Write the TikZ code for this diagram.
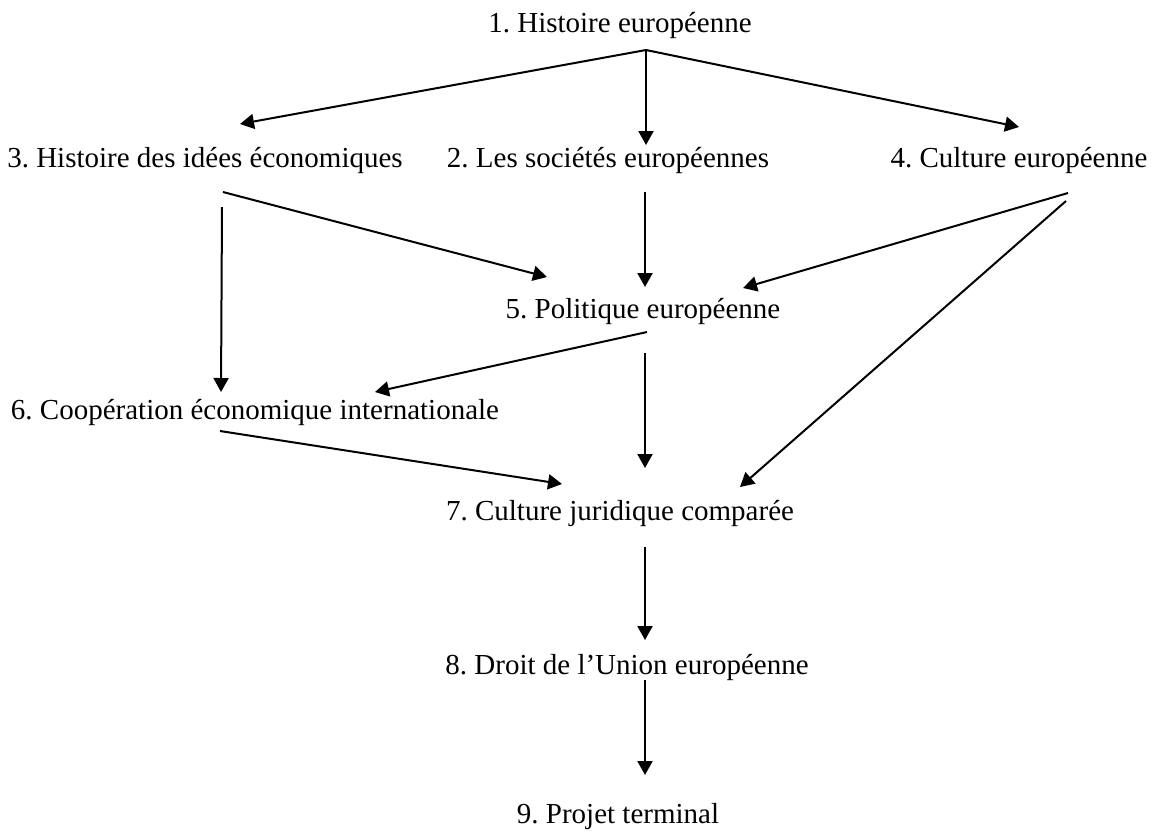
\documentclass[tikz,border=0pt]{standalone}
\usepackage{fontspec}
\setmainfont{Liberation Serif}
\usetikzlibrary{arrows.meta}

\begin{document}
\begin{tikzpicture}[
  x=0.5pt, y=-0.5pt,
  font=\fontsize{14.5}{17}\selectfont\frenchspacing,
  >={Triangle[length=7pt, width=7.5pt]},
  cours/.style={inner sep=0pt, anchor=center},
  lien/.style={->, line width=1pt, draw=black},
]
\useasboundingbox (0,0) rectangle (1157,832);

% ---- courses ----
\node[cours] (hist)   at (620,25)  {1. Histoire européenne};
\node[cours] (idees)  at (205,160) {3. Histoire des idées économiques};
\node[cours] (soc)    at (608,160) {2. Les sociétés européennes};
\node[cours] (cult)   at (1019,160) {4. Culture européenne};
\node[cours] (pol)    at (643,311) {5. Politique européenne};
\node[cours] (coop)   at (255,412) {6. Coopération économique internationale};
\node[cours] (jur)    at (620,513) {7. Culture juridique comparée};
\node[cours] (droit)  at (627,667) {8. Droit de l’Union européenne};
\node[cours] (projet) at (618,817) {9. Projet terminal};

% ---- free ends of the connectors ----
\coordinate (hist-out)   at (646,50);
\coordinate (idees-in)   at (240,124);
\coordinate (soc-in)     at (646,145);
\coordinate (cult-in)    at (1019,127);
\coordinate (idees-out)  at (223,192);
\coordinate (idees-down) at (222,207);
\coordinate (soc-out)    at (645,192);
\coordinate (cult-out)   at (1068,193);
\coordinate (cult-down)  at (1066,201);
\coordinate (pol-in)     at (645,287);
\coordinate (pol-inl)    at (547,277);
\coordinate (pol-inr)    at (743,288);
\coordinate (pol-out)    at (647,332);
\coordinate (pol-down)   at (645,353);
\coordinate (coop-in)    at (221,392);
\coordinate (coop-inr)   at (375,392);
\coordinate (coop-out)   at (220,431);
\coordinate (jur-in)     at (645,468);
\coordinate (jur-inl)    at (562,484);
\coordinate (jur-inr)    at (740,487);
\coordinate (jur-out)    at (645,547);
\coordinate (droit-in)   at (645,640);
\coordinate (droit-out)  at (645,680);
\coordinate (projet-in)  at (645,775);

% ---- flows ----
\draw[lien] (hist-out) -- (idees-in);
\draw[lien] (hist-out) -- (soc-in);
\draw[lien] (hist-out) -- (cult-in);
\draw[lien] (idees-out) -- (pol-inl);
\draw[lien] (idees-down) -- (coop-in);
\draw[lien] (soc-out) -- (pol-in);
\draw[lien] (cult-out) -- (pol-inr);
\draw[lien] (cult-down) -- (jur-inr);
\draw[lien] (pol-out) -- (coop-inr);
\draw[lien] (pol-down) -- (jur-in);
\draw[lien] (coop-out) -- (jur-inl);
\draw[lien] (jur-out) -- (droit-in);
\draw[lien] (droit-out) -- (projet-in);
\end{tikzpicture}
\end{document}
